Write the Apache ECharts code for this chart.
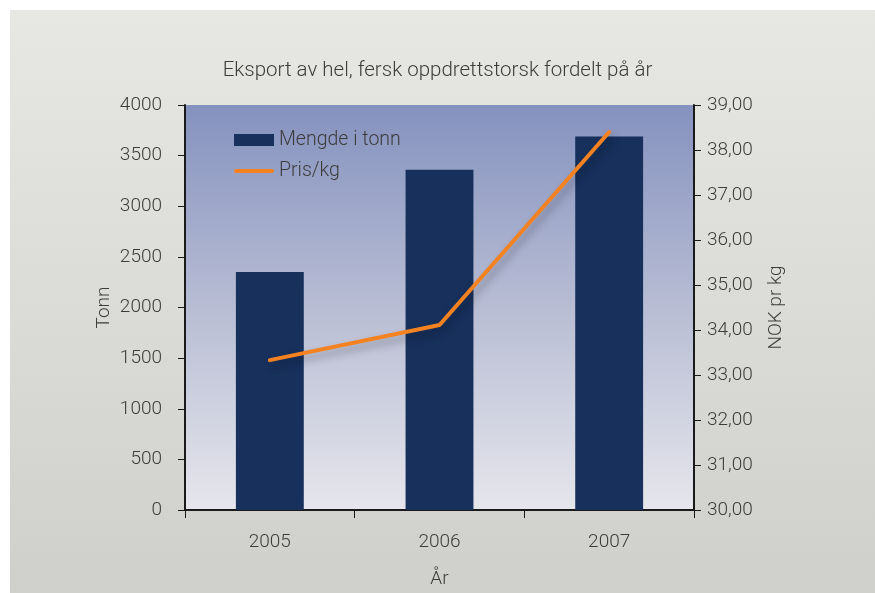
<!DOCTYPE html>
<html>
<head>
<meta charset="utf-8">
<script src="https://cdn.jsdelivr.net/npm/echarts@6/dist/echarts.min.js"></script>
<style>html,body{margin:0;padding:0;background:#fff}#c{width:875px;height:593px}</style>
</head>
<body>
<div id="c"></div>
<script>
var categories = ['2005', '2006', '2007'];
var tonnValues = [2350, 3360, 3690];
var prisValues = [33.33, 34.11, 38.40];
var titleText = 'Eksport av hel, fersk oppdrettstorsk fordelt på år';
var FONT = "Roboto, 'Noto Sans', sans-serif";
var TXT = '#3c3c3c';

var chart = echarts.init(document.getElementById('c'));
chart.setOption({
  animation: false,
  graphic: [{
    type: 'rect', z: -10, silent: true,
    shape: {x: 10, y: 10, width: 865, height: 583},
    style: {fill: new echarts.graphic.LinearGradient(0, 0, 0, 1, [
      {offset: 0, color: '#e7e7e3'}, {offset: 1, color: '#cfd0cb'}])}
  }],
  title: {
    text: titleText, left: 'center', top: 55,
    textStyle: {fontFamily: FONT, fontSize: 20.5, fontWeight: 300, color: TXT}
  },
  grid: {
    left: 185, right: 181, top: 105, bottom: 83, show: true, borderWidth: 0,
    outerBoundsMode: 'none', containLabel: false,
    backgroundColor: new echarts.graphic.LinearGradient(0, 0, 0, 1, [
      {offset: 0, color: '#8592bf'}, {offset: 0.5, color: '#b8bdd4'}, {offset: 1, color: '#e6e6ec'}])
  },
  legend: {
    orient: 'vertical', left: 229, top: 125, itemGap: 11,
    itemWidth: 40, itemHeight: 12,
    textStyle: {fontFamily: FONT, fontSize: 19.5, fontWeight: 300, color: TXT},
    data: [{name: 'Mengde i tonn', icon: 'rect'},
           {name: 'Pris/kg', icon: 'path://M2,0 L38,0 A2,2 0 0 1 38,4 L2,4 A2,2 0 0 1 2,0 Z'}]
  },
  xAxis: {
    type: 'category', data: categories,
    name: 'År', nameLocation: 'middle', nameGap: 60,
    nameTextStyle: {fontFamily: FONT, fontSize: 19, fontWeight: 300, color: TXT},
    axisLine: {lineStyle: {color: '#1a1a1a', width: 2}},
    axisTick: {show: true, length: 8, lineStyle: {color: '#1a1a1a'}},
    axisLabel: {fontFamily: FONT, fontSize: 19, fontWeight: 300, color: TXT, margin: 23}
  },
  yAxis: [{
    type: 'value', min: 0, max: 4000, interval: 500,
    name: 'Tonn', nameLocation: 'middle', nameGap: 71, nameRotate: 90, nameMoveOverlap: false,
    nameTextStyle: {fontFamily: FONT, fontSize: 19, fontWeight: 300, color: TXT},
    axisLine: {show: true, lineStyle: {color: '#1a1a1a', width: 2}},
    axisTick: {show: true, length: 7, lineStyle: {color: '#1a1a1a'}},
    axisLabel: {fontFamily: FONT, fontSize: 19, fontWeight: 300, color: TXT, margin: 23,
      formatter: function (v) { return String(v); }},
    splitLine: {show: false}
  }, {
    type: 'value', min: 30, max: 39, interval: 1, position: 'right',
    name: 'NOK pr kg', nameLocation: 'middle', nameGap: 73, nameRotate: 90,
    nameTextStyle: {fontFamily: FONT, fontSize: 19, fontWeight: 300, color: TXT},
    axisLine: {show: true, lineStyle: {color: '#1a1a1a', width: 2}},
    axisTick: {show: true, length: 7, lineStyle: {color: '#1a1a1a'}},
    axisLabel: {fontFamily: FONT, fontSize: 19, fontWeight: 300, color: TXT, margin: 13,
      formatter: function (v) { return v.toFixed(2).replace('.', ','); }},
    splitLine: {show: false}
  }],
  series: [{
    name: 'Mengde i tonn', type: 'bar', data: tonnValues, barWidth: '40%',
    itemStyle: {color: '#17305c'}
  }, {
    name: 'Pris/kg', type: 'line', yAxisIndex: 1, data: prisValues,
    symbol: 'none',
    lineStyle: {color: '#f58220', width: 4, cap: 'round',
      shadowColor: 'rgba(0,0,0,0.3)', shadowBlur: 8, shadowOffsetX: 3, shadowOffsetY: 5},
    itemStyle: {color: '#f58220'}
  }]
});
</script>
</body>
</html>
